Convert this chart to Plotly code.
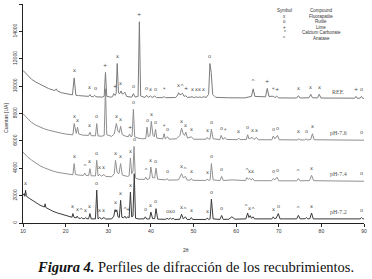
import numpy as np
import plotly.graph_objects as go

# ---------------- data ----------------
ref_2theta = [10, 11, 12, 13, 14, 15, 16, 17, 17.5, 17.8, 18.1, 19, 20, 21, 21.6, 22.0, 22.4, 23, 24,
              25.4, 25.7, 26.0, 26.5, 26.8, 27.1, 28.6, 29.05, 29.35, 29.65, 30.6, 31.0, 31.3, 31.6,
              31.85, 32.1, 32.4, 32.7, 33.0, 33.3, 33.6, 33.9, 34.3, 35.5, 35.9, 36.3, 37.0, 37.3,
              37.6, 38.6, 39.0, 39.4, 39.9, 40.3, 40.9, 41.3, 42.8, 43.1, 43.4, 45.8, 46.3, 46.5,
              46.8, 47.1, 47.4, 47.8, 48.2, 48.6, 49.7, 50.2, 50.7, 51.1, 51.5, 51.9, 52.3, 53.0,
              53.55, 53.85, 54.15, 54.5, 55.2, 58, 60, 62, 63.6, 64.0, 64.4, 66.9, 67.3, 67.7, 68.7,
              69.1, 69.5, 70, 74.2, 74.6, 75.0, 77.1, 77.5, 77.9, 79.1, 79.5, 79.9, 84, 87.8, 88.1,
              88.4, 89.1, 89.4, 89.7, 90]
ref_counts = [11150, 10800, 10500, 10300, 10150, 9950, 9820, 9720, 9680, 9800, 9640, 9520, 9440, 9390,
              9360, 10600, 9340, 9310, 9280, 9250, 9380, 9240, 9230, 9330, 9220, 9200, 9260, 11000,
              9260, 9190, 9230, 9450, 9320, 9450, 11650, 9500, 9450, 9650, 9420, 9450, 9550, 9250,
              9190, 9450, 9200, 9250, 14700, 9280, 9170, 9330, 9180, 9280, 9170, 9280, 9160, 9160,
              9250, 9150, 9170, 9350, 9520, 9380, 9400, 9480, 9250, 9300, 9170, 9220, 9160, 9220,
              9160, 9220, 9160, 9220, 9180, 9400, 11650, 11000, 9400, 9180, 9150, 9140, 9140, 9250,
              9800, 9250, 9220, 9830, 9250, 9260, 9160, 9260, 9140, 9130, 9300, 9130, 9150, 9400,
              9150, 9140, 9400, 9130, 9110, 9120, 9250, 9110, 9120, 9250, 9110, 9100]

ph76_2theta = [10, 11, 12, 13, 14, 15, 16, 17, 18, 19, 20, 21, 21.7, 22.0, 22.3, 22.5, 22.8, 23.1, 24,
               25.4, 25.7, 26.0, 27.0, 27.3, 27.6, 28.5, 29.05, 29.35, 29.65, 30.8, 31.4, 31.9, 32.3,
               32.6, 32.9, 33.3, 34.0, 34.7, 35.0, 35.3, 35.6, 35.9, 36.2, 37, 38, 38.8, 39.1, 39.4,
               39.8, 40.1, 40.5, 40.8, 41.1, 41.4, 42.8, 43.1, 43.4, 43.9, 44.3, 46, 46.8, 47.2, 47.6,
               47.9, 48.2, 48.6, 49.5, 50, 52.9, 53.2, 53.6, 53.9, 54.2, 54.6, 56.2, 56.5, 56.9, 57.4,
               57.8, 60.3, 60.6, 60.9, 62.4, 62.7, 63.0, 63.8, 64.2, 64.8, 65.2, 68.4, 68.7, 69.1,
               69.7, 70.1, 74.4, 74.7, 75, 76.1, 76.4, 76.7, 77.5, 77.9, 78.3, 89.1, 89.4, 89.7, 90]
ph76_counts = [7980, 7650, 7350, 7150, 7000, 6880, 6780, 6690, 6620, 6560, 6500, 6460, 6440, 7260, 6600,
               6550, 7000, 6500, 6420, 6400, 6640, 6380, 6370, 7260, 6360, 6340, 6400, 9800, 6450,
               6330, 6500, 7260, 6700, 6600, 7060, 6450, 6350, 6300, 6500, 6300, 6350, 8300, 6300,
               6200, 6150, 6180, 7000, 6300, 6400, 7420, 6400, 6300, 6840, 6200, 6150, 6520, 6150,
               6300, 6120, 6150, 6400, 6930, 6500, 6400, 6640, 6200, 6300, 6120, 6120, 6250, 6120,
               6150, 6850, 6150, 6100, 6400, 6110, 6250, 6100, 6090, 6200, 6090, 6100, 6450, 6150,
               6250, 6100, 6250, 6080, 6080, 6350, 6150, 6400, 6080, 6070, 6150, 6070, 6070, 6150,
               6070, 6100, 6520, 6080, 6050, 6100, 6050, 6050]

ph74_2theta = [10, 11, 12, 13, 14, 15, 16, 17, 18, 19, 20, 21, 21.7, 22.0, 22.3, 23, 24.2, 24.5, 24.8,
               25.4, 25.7, 26.0, 27.0, 27.3, 27.6, 28.0, 28.4, 29.0, 29.4, 30.8, 31.4, 31.7, 32.1,
               32.5, 32.9, 33.3, 34.5, 34.9, 35.2, 35.5, 35.8, 36.05, 36.35, 37, 38.5, 38.8, 39.1,
               39.7, 40.0, 40.4, 40.9, 41.2, 41.6, 43.5, 43.8, 44.1, 46.5, 47.2, 47.6, 48.1, 48.5,
               49.2, 49.5, 49.8, 52.9, 53.2, 53.6, 53.9, 54.2, 54.6, 56.2, 56.6, 57.0, 59, 62.2, 62.5,
               62.9, 63.2, 63.55, 63.9, 64.3, 68.3, 68.7, 69.1, 69.6, 70.0, 74.2, 74.6, 75.0, 77.2,
               77.7, 78.2, 89.1, 89.4, 89.7, 90]
ph74_counts = [5180, 4850, 4600, 4380, 4180, 4030, 3900, 3800, 3710, 3650, 3590, 3540, 3520, 4340, 3550,
               3500, 3480, 3650, 3470, 3460, 3970, 3450, 3440, 4580, 3440, 3550, 3420, 3550, 3400,
               3380, 3600, 4580, 3700, 3600, 4340, 3500, 3400, 3450, 4750, 3600, 3800, 5600, 3300,
               3200, 3180, 3350, 3170, 3250, 4090, 3300, 3300, 4010, 3200, 3150, 3250, 3130, 3150,
               3600, 3300, 3400, 3140, 3130, 3250, 3120, 3110, 3200, 3110, 3150, 4340, 3150, 3100,
               3400, 3100, 3150, 3100, 3310, 3200, 3250, 3150, 3250, 3090, 3090, 3250, 3150, 3350,
               3080, 3080, 3250, 3080, 3100, 3480, 3090, 3060, 3100, 3060, 3050]

ph72_2theta = [10, 10.3, 10.45, 10.6, 10.8, 11, 11.5, 12, 13, 14, 15, 15.2, 15.35, 16, 17, 18, 19, 20,
               21, 21.5, 21.7, 22.0, 22.5, 22.7, 23.0, 23.5, 23.7, 24.0, 24.5, 24.7, 25.0, 25.4, 25.7,
               26.0, 27.0, 27.3, 27.6, 28.0, 28.4, 29.0, 29.4, 30.8, 31.3, 31.6, 31.8, 32.0, 32.3,
               32.6, 32.9, 33.2, 33.6, 33.9, 34.2, 34.6, 34.9, 35.2, 35.5, 35.8, 36.1, 36.4, 37, 38.4,
               38.7, 39.0, 39.7, 40.0, 40.4, 40.9, 41.2, 41.6, 43.5, 43.8, 44.1, 44.6, 44.9, 45.2,
               45.5, 46.8, 47.2, 47.6, 48.1, 48.5, 49.2, 49.5, 49.8, 52.9, 53.2, 53.6, 53.9, 54.2,
               54.6, 56.2, 56.6, 57.0, 58.3, 59.0, 59.7, 62.3, 62.7, 63.0, 63.3, 63.6, 64.0, 64.3,
               68.4, 68.7, 69.0, 69.4, 69.9, 70.3, 74.2, 74.6, 75.0, 76.2, 76.5, 76.8, 77.3, 77.7,
               78.1, 89.1, 89.4, 89.7, 90]
ph72_counts = [2020, 2150, 1950, 2390, 2000, 1900, 1800, 1700, 1500, 1300, 1170, 1400, 1130, 1000, 860,
               740, 640, 540, 450, 420, 690, 400, 380, 500, 360, 330, 400, 320, 320, 400, 310, 310,
               690, 300, 300, 2400, 300, 400, 290, 400, 290, 300, 500, 980, 800, 960, 450, 400, 1660,
               420, 380, 500, 350, 450, 380, 2260, 450, 500, 3600, 350, 300, 300, 450, 290, 300, 800,
               320, 320, 1050, 280, 270, 350, 270, 350, 270, 350, 260, 270, 640, 300, 450, 260, 260,
               400, 260, 260, 350, 260, 300, 1750, 300, 260, 550, 260, 280, 450, 280, 300, 730, 400,
               540, 350, 450, 300, 300, 450, 320, 350, 690, 300, 300, 560, 300, 310, 400, 300, 320,
               730, 300, 300, 400, 300, 300]

# phase symbols above the peaks (2-theta, symbol)
ref_marks = [(22.0, 'x'), (25.7, 'x'), (26.9, 'o'), (29.35, '+'), (31.5, '+'), (32.1, 'x'), (32.9, 'x'),
             (35.9, 'o'), (37.3, '+'), (38.9, 'o'), (39.9, 'x'), (41.0, 'o'), (43.2, '*'), (46.5, 'x'),
             (47.4, '^'), (48.2, '+'), (49.8, 'x'), (50.7, 'x'), (51.5, 'x'), (52.4, 'x'), (53.85, 'o'),
             (64.0, '^'), (67.3, '+'), (68.7, '*'), (69.6, '+'), (74.6, 'x'), (77.5, 'x'), (79.5, 'x'),
             (88.1, '+'), (89.4, 'o')]
ph76_marks = [(22.0, 'x'), (22.8, 'x'), (25.7, 'x'), (27.3, 'o'), (31.9, 'x'), (32.9, 'x'), (35.0, '+'),
              (35.9, 'o'), (39.1, 'o'), (40.1, 'x'), (41.1, 'o'), (43.1, '*'), (43.9, 'o'), (47.2, 'x'),
              (48.2, 'x'), (49.5, 'x'), (53.2, 'x'), (54.2, 'o'), (56.5, 'o'), (57.4, '*'), (60.6, 'x'),
              (62.7, 'o'), (63.8, 'x'), (64.8, 'x'), (68.7, 'o'), (69.7, 'o'), (74.7, 'x'), (76.4, 'o'),
              (77.9, 'x'), (89.4, 'o')]
ph74_marks = [(22.0, 'x'), (24.5, '^'), (25.7, 'x'), (27.3, 'o'), (28.0, 'x'), (29.0, 'x'), (31.7, 'x'),
              (32.9, 'x'), (35.2, 'x'), (36.05, 'o'), (38.8, '^'), (40.0, 'x'), (41.2, 'o'), (43.8, 'o'),
              (47.2, 'x'), (48.1, '^'), (49.5, 'x'), (53.2, 'x'), (54.2, 'o'), (56.6, 'o'), (62.5, '^'),
              (63.2, 'x'), (63.9, 'x'), (68.7, 'o'), (69.6, 'o'), (74.6, '^'), (77.7, 'x'), (89.4, 'o')]
ph72_marks = [(10.6, 'x'), (21.7, 'x'), (22.7, 'x'), (23.7, '^'), (24.7, 'x'), (25.7, 'x'), (27.3, 'o'),
              (28.0, 'x'), (29.0, 'x'), (31.7, 'x'), (32.9, 'x'), (33.9, '^'), (34.6, '+'), (35.2, 'x'),
              (38.7, 'o'), (40.0, 'x'), (41.2, 'o'), (43.8, 'o'), (44.6, 'x'), (45.2, 'o'), (47.2, 'x'),
              (48.1, '^'), (49.5, 'x'), (53.2, 'x'), (54.2, 'o'), (56.6, 'o'), (62.4, '^'), (63.2, 'x'),
              (64.0, '^'), (68.7, 'x'), (69.9, 'o'), (74.6, '^'), (77.7, 'x'), (89.4, 'o')]

sample_names = ["REF.", "pH-7.6", "pH-7.4", "pH-7.2"]
legend_symbols = ["x", "o", "+", "*", "^"]
legend_compounds = ["Fluorapatite", "Rutile", "Lime", "Calcium Carbonate", "Anatase"]

x_ticks = [10, 20, 30, 40, 50, 60, 70, 80, 90]
y_ticks = [0, 2000, 4000, 6000, 8000, 10000, 12000, 14000, 16000]

# ---------------- figure ----------------
series = [
    (ref_2theta, ref_counts, ref_marks, "#7b7b7b"),
    (ph76_2theta, ph76_counts, ph76_marks, "#8e8e8e"),
    (ph74_2theta, ph74_counts, ph74_marks, "#929292"),
    (ph72_2theta, ph72_counts, ph72_marks, "#3a3a3a"),
]

fig = go.Figure()
annotations = []
mark_font = dict(family="DejaVu Sans", size=5, color="#444444")

for (xs, ys, marks, col), name in zip(series, sample_names):
    fig.add_trace(go.Scatter(x=xs, y=ys, mode="lines", line=dict(color=col, width=1),
                             name=name, showlegend=False, hoverinfo="skip"))
    xa = np.array(xs, dtype=float)
    ya = np.array(ys, dtype=float)
    for pos, sym in marks:
        near = ya[np.abs(xa - pos) <= 0.36]
        top = near.max() if near.size else np.interp(pos, xa, ya)
        annotations.append(dict(x=pos, y=top + 180, xref="x", yref="y", text=sym, showarrow=False,
                                yanchor="bottom", xanchor="center", font=mark_font))
    # sample label at the right, sitting on the trace baseline
    base = float(np.interp(84.0, xa, ya))
    annotations.append(dict(x=84.0, y=base + 120, xref="x", yref="y", text=name, showarrow=False,
                            yanchor="bottom", xanchor="center",
                            font=dict(family="Liberation Serif", size=6, color="#555555")))

# symbol / compound key (rows ~5.5 px apart)
key_font = dict(family="Liberation Sans", size=4.5, color="#333333")
key_rows_px = [10.5, 16, 21.5, 27, 32.5, 38]
def py_to_paper(py):
    return (223.0 - py) / 219.0
annotations.append(dict(x=0.768, y=py_to_paper(key_rows_px[0]), xref="paper", yref="paper", text="Symbol",
                        showarrow=False, xanchor="center", yanchor="middle", font=key_font))
annotations.append(dict(x=0.874, y=py_to_paper(key_rows_px[0]), xref="paper", yref="paper", text="Compound",
                        showarrow=False, xanchor="center", yanchor="middle", font=key_font))
for i, (s, c) in enumerate(zip(legend_symbols, legend_compounds)):
    yy = py_to_paper(key_rows_px[i + 1])
    annotations.append(dict(x=0.768, y=yy, xref="paper", yref="paper", text=s, showarrow=False,
                            xanchor="center", yanchor="middle", font=key_font, borderpad=0))
    annotations.append(dict(x=0.874, y=yy, xref="paper", yref="paper", text=c, showarrow=False,
                            xanchor="center", yanchor="middle", font=key_font, borderpad=0))

# axis titles
annotations.append(dict(x=0.478, y=py_to_paper(250), xref="paper", yref="paper", text="2θ", showarrow=False,
                        xanchor="center", yanchor="middle",
                        font=dict(family="Liberation Sans", size=5, color="#333")))
annotations.append(dict(x=-0.05, y=py_to_paper(118), xref="paper", yref="paper", text="Cuentas [UA]",
                        showarrow=False, textangle=-90, xanchor="center", yanchor="middle",
                        font=dict(family="Liberation Sans", size=5, color="#333")))
# caption
annotations.append(dict(x=0.507, y=py_to_paper(266.5), xref="paper", yref="paper",
                        text="<b><i>Figura 4.</i></b> Perfiles de difracción de los recubrimientos.",
                        showarrow=False, xanchor="center", yanchor="middle", borderpad=0,
                        font=dict(family="Liberation Serif", size=14.5, color="#111111")))

fig.update_layout(
    width=372, height=279,
    margin=dict(l=23, r=8, t=4, b=56),
    paper_bgcolor="white", plot_bgcolor="white",
    annotations=annotations,
    showlegend=False,
)
fig.update_xaxes(range=[10, 90], tickvals=x_ticks, ticktext=[str(v) for v in x_ticks],
                 showline=True, linecolor="#222", linewidth=1, ticks="outside", ticklen=3,
                 tickcolor="#222", tickfont=dict(family="Liberation Sans", size=5, color="#333"),
                 showgrid=False, zeroline=False)
fig.update_yaxes(range=[0, 16000], tickvals=y_ticks, ticktext=[str(v) for v in y_ticks],
                 tickangle=-90, showline=True, linecolor="#222", linewidth=1, ticks="outside",
                 ticklen=3, tickcolor="#222",
                 tickfont=dict(family="Liberation Sans", size=5, color="#333"),
                 showgrid=False, zeroline=False)

fig.write_html("out.html", config={"displayModeBar": False},
               post_script="document.body.style.margin='0';")
